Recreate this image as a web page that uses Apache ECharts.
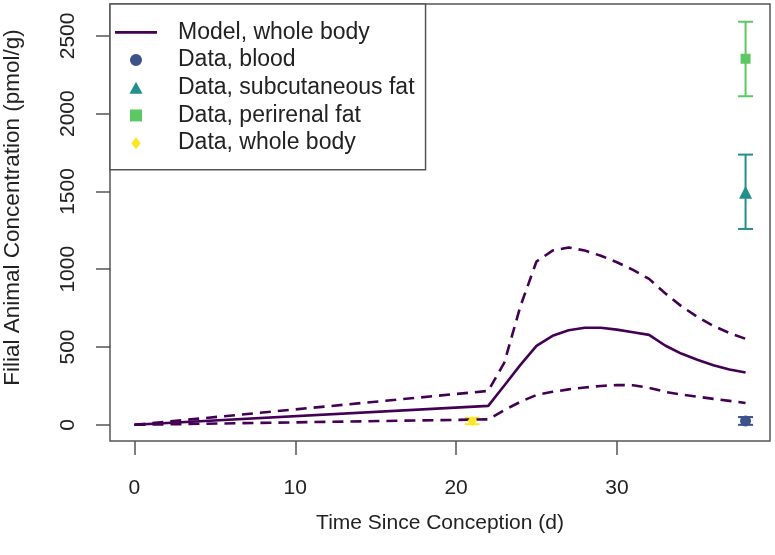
<!DOCTYPE html>
<html>
<head>
<meta charset="utf-8">
<script src="https://cdn.jsdelivr.net/npm/echarts@6/dist/echarts.min.js"></script>
<style>
html,body{margin:0;padding:0;background:#fff;}
#chart{width:775px;height:555px;}
</style>
</head>
<body>
<div id="chart"></div>
<script>
// ---- data ----
const xTicks = [0, 10, 20, 30];
const yTicks = [0, 500, 1000, 1500, 2000, 2500];

const modelX = [0, 22, 23, 24, 25, 26, 27, 28, 29, 30, 31, 32, 33, 34, 35, 36, 37, 38];
const modelMid = [0, 122, 253, 385, 508, 572, 608, 624, 624, 612, 595, 578, 510, 458, 418, 383, 356, 336];
const modelUpper = [0, 218, 400, 762, 1050, 1120, 1140, 1120, 1087, 1045, 996, 938, 846, 763, 694, 636, 590, 553];
const modelLower = [0, 35, 95, 148, 192, 212, 228, 240, 250, 256, 254, 238, 212, 195, 181, 167, 154, 140];

const bloodX = [38];
const bloodY = [25];
const bloodLo = [0];
const bloodHi = [50];

const subcutX = [38];
const subcutY = [1495];
const subcutLo = [1259];
const subcutHi = [1737];

const perirenalX = [38];
const perirenalY = [2353];
const perirenalLo = [2112];
const perirenalHi = [2591];

const wholeX = [21];
const wholeY = [24];
const wholeLo = [4];
const wholeHi = [44];

const names = ['Model, whole body', 'Data, blood', 'Data, subcutaneous fat', 'Data, perirenal fat', 'Data, whole body'];
const colors = ['#440154', '#3B528B', '#21908C', '#5DC863', '#FDE725'];

// ---- helpers ----
const pairs = (xs, ys) => xs.map((x, i) => [x, ys[i]]);
const triples = (xs, lo, hi) => xs.map((x, i) => [x, lo[i], hi[i]]);

function errSeries(xs, lo, hi, color) {
  return {
    type: 'custom',
    name: 'err',
    silent: true,
    z: 2,
    data: triples(xs, lo, hi),
    renderItem: function (params, api) {
      const x = api.value(0);
      const pLo = api.coord([x, api.value(1)]);
      const pHi = api.coord([x, api.value(2)]);
      const w = 7.5;
      const st = { stroke: color, lineWidth: 2 };
      return {
        type: 'group',
        children: [
          { type: 'line', shape: { x1: pLo[0], y1: pLo[1], x2: pHi[0], y2: pHi[1] }, style: st },
          { type: 'line', shape: { x1: pLo[0] - w, y1: pLo[1], x2: pLo[0] + w, y2: pLo[1] }, style: st },
          { type: 'line', shape: { x1: pHi[0] - w, y1: pHi[1], x2: pHi[0] + w, y2: pHi[1] }, style: st }
        ]
      };
    }
  };
}

const FONT = 'Liberation Sans, Arial, Helvetica, sans-serif';

const chart = echarts.init(document.getElementById('chart'), null, { renderer: 'canvas' });

const option = {
  animation: false,
  backgroundColor: '#ffffff',
  textStyle: { fontFamily: FONT },
  grid: {
    left: 110, right: 5, top: 4, bottom: 114,
    show: true, borderColor: '#555', borderWidth: 1.5, backgroundColor: 'transparent',
    containLabel: false,
    outerBoundsMode: 'none'
  },
  xAxis: {
    type: 'value',
    min: -1.52, max: 39.52,
    name: 'Time Since Conception (d)',
    nameLocation: 'middle',
    nameGap: 72,
    nameTextStyle: { fontSize: 21, color: '#222', fontFamily: FONT },
    axisLine: { show: false, onZero: false },
    splitLine: { show: false },
    axisTick: { show: true, length: 14, lineStyle: { color: '#555', width: 1.5 }, customValues: xTicks },
    axisLabel: { show: true, fontSize: 21, color: '#222', margin: 37, fontFamily: FONT, customValues: xTicks,
      formatter: v => String(v) }
  },
  yAxis: {
    type: 'value',
    min: -104, max: 2705,
    name: 'Filial Animal Concentration (pmol/g)',
    nameLocation: 'middle',
    nameGap: 86,
    nameTextStyle: { fontSize: 22.5, color: '#222', fontFamily: FONT, padding: [0, 0, 0, 30] },
    axisLine: { show: false, onZero: false },
    splitLine: { show: false },
    axisTick: { show: true, length: 14, lineStyle: { color: '#555', width: 1.5 }, customValues: yTicks },
    axisLabel: { show: true, fontSize: 21, color: '#222', margin: 31, rotate: 90, fontFamily: FONT, customValues: yTicks,
      formatter: v => String(v) }
  },
  legend: {
    orient: 'vertical',
    left: 110, top: 4,
    padding: [14.5, 11, 12.8, 5],
    itemWidth: 42, itemHeight: 12, itemGap: 0,
    backgroundColor: '#ffffff',
    borderColor: '#555', borderWidth: 1.5, borderRadius: 0,
    selectedMode: false,
    symbolKeepAspect: true,
    textStyle: { fontSize: 23, color: '#222', lineHeight: 27.7, padding: [0, 0, 0, 16], fontFamily: FONT },
    data: [
      { name: names[0], icon: 'path://M0,0 L42,0 L42,2.6 L0,2.6 Z' },
      { name: names[1], icon: 'path://M5,0 A5,5 0 1,1 4.99,0 Z' },
      { name: names[2], icon: 'path://M6,0 L12,11 L0,11 Z' },
      { name: names[3], icon: 'path://M0,0 L10,0 L10,10 L0,10 Z' },
      { name: names[4], icon: 'path://M4,0 L8,5 L4,10 L0,5 Z' }
    ]
  },
  series: [
    {
      type: 'line', name: names[0], data: pairs(modelX, modelMid),
      showSymbol: false, symbol: 'none', z: 3,
      lineStyle: { color: colors[0], width: 2.6 }, itemStyle: { color: colors[0] }
    },
    {
      type: 'line', name: 'upper', data: pairs(modelX, modelUpper),
      showSymbol: false, symbol: 'none', z: 3,
      lineStyle: { color: colors[0], width: 2.6, type: [11, 7] }
    },
    {
      type: 'line', name: 'lower', data: pairs(modelX, modelLower),
      showSymbol: false, symbol: 'none', z: 3,
      lineStyle: { color: colors[0], width: 2.6, type: [11, 7] }
    },
    errSeries(bloodX, bloodLo, bloodHi, colors[1]),
    errSeries(subcutX, subcutLo, subcutHi, colors[2]),
    errSeries(perirenalX, perirenalLo, perirenalHi, colors[3]),
    errSeries(wholeX, wholeLo, wholeHi, colors[4]),
    {
      type: 'scatter', name: names[1], data: pairs(bloodX, bloodY), symbol: 'circle', symbolSize: 11, z: 4,
      itemStyle: { color: colors[1], opacity: 1 }
    },
    {
      type: 'scatter', name: names[2], data: pairs(subcutX, subcutY), symbol: 'triangle', symbolSize: 13, z: 4,
      itemStyle: { color: colors[2], opacity: 1 }
    },
    {
      type: 'scatter', name: names[3], data: pairs(perirenalX, perirenalY), symbol: 'rect', symbolSize: 10, z: 4,
      itemStyle: { color: colors[3], opacity: 1 }
    },
    {
      type: 'scatter', name: names[4], data: pairs(wholeX, wholeY), symbol: 'diamond', symbolSize: 10, z: 4,
      itemStyle: { color: colors[4], opacity: 1 }
    }
  ]
};

chart.setOption(option);
</script>
</body>
</html>
